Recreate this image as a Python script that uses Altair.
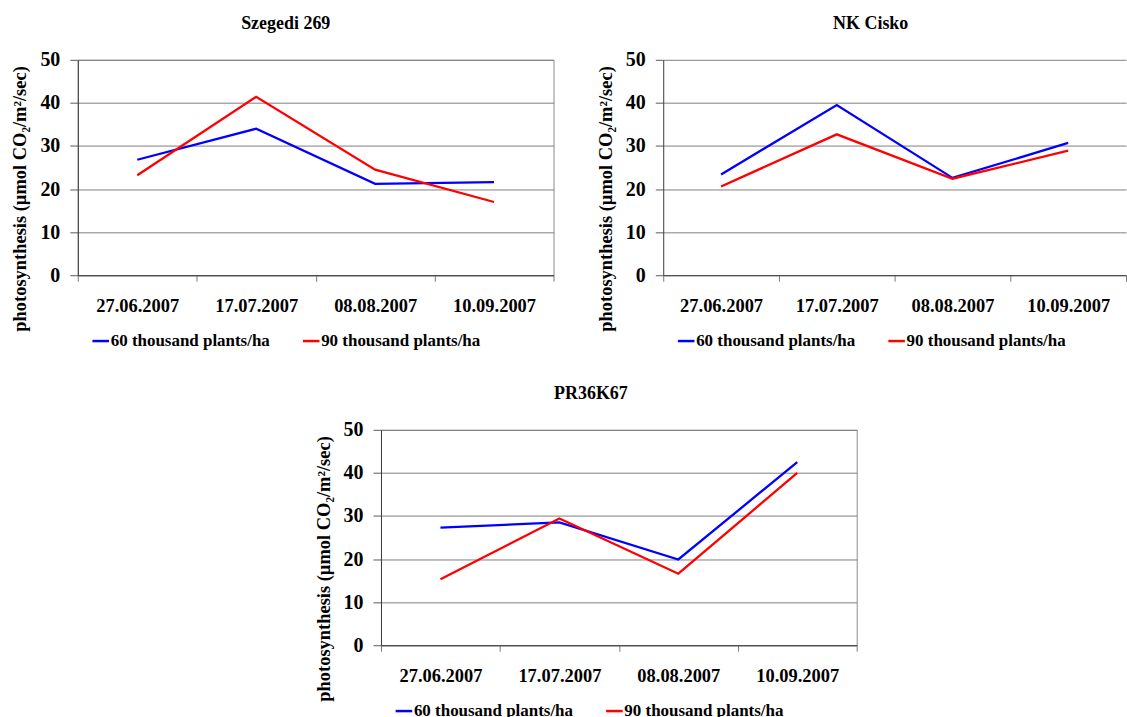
import altair as alt
import pandas as pd

dates = ["27.06.2007", "17.07.2007", "08.08.2007", "10.09.2007"]
series_names = ["60 thousand plants/ha", "90 thousand plants/ha"]
series_colors = ["#0000ff", "#ff0000"]

szegedi_60 = [26.8, 34.0, 21.2, 21.6]
szegedi_90 = [23.2, 41.4, 24.5, 17.0]
cisko_60 = [23.4, 39.5, 22.6, 30.7]
cisko_90 = [20.6, 32.7, 22.4, 28.9]
pr_60 = [27.3, 28.5, 19.9, 42.5]
pr_90 = [15.3, 29.4, 16.6, 40.0]

y_ticks = [0, 10, 20, 30, 40, 50]
y_title = "photosynthesis (µmol CO₂/m²/sec)"

FONT = "Liberation Serif"


def make_df(v60, v90):
    rows = []
    for d, a in zip(dates, v60):
        rows.append({"date": d, "series": series_names[0], "value": a})
    for d, b in zip(dates, v90):
        rows.append({"date": d, "series": series_names[1], "value": b})
    return pd.DataFrame(rows)


def panel(title, v60, v90, width, dx, stroke="#8c8c8c"):
    df = make_df(v60, v90)
    return (
        alt.Chart(df)
        .mark_line(strokeWidth=2.3)
        .encode(
            x=alt.X(
                "date:N",
                sort=dates,
                scale=alt.Scale(type="band", paddingInner=0, paddingOuter=0),
                axis=alt.Axis(
                    title=None,
                    labelAngle=0,
                    tickBand="extent",
                    tickSize=6,
                    tickColor="#7a7a7a",
                    domainColor="#3c3c3c",
                    labelPadding=15,
                    labelFont=FONT,
                    labelFontSize=18.5,
                    labelFontWeight="bold",
                    labelColor="black",
                    grid=False,
                ),
            ),
            y=alt.Y(
                "value:Q",
                scale=alt.Scale(domain=[0, 50], nice=False),
                axis=alt.Axis(
                    values=y_ticks,
                    title=y_title,
                    titleFont=FONT,
                    titleFontSize=18.5,
                    titleFontWeight="bold",
                    titleColor="black",
                    titleX=-48,
                    titleY=139,
                    labelFont=FONT,
                    labelFontSize=20,
                    labelFontWeight="bold",
                    labelColor="black",
                    labelPadding=10,
                    tickSize=8,
                    tickColor="#5a5a5a",
                    domainColor="#3c3c3c",
                    gridColor="#7f7f7f",
                    gridWidth=1,
                ),
            ),
            color=alt.Color(
                "series:N",
                scale=alt.Scale(domain=series_names, range=series_colors),
                legend=alt.Legend(
                    orient="none",
                    legendX=13,
                    legendY=272,
                    direction="horizontal",
                    title=None,
                    symbolType="stroke",
                    symbolSize=276,
                    symbolStrokeWidth=2.5,
                    labelFont=FONT,
                    labelFontSize=17,
                    labelFontWeight="bold",
                    labelColor="black",
                    labelOffset=0,
                    labelLimit=400,
                    columnPadding=27,
                    padding=0,
                ),
            ),
        )
        .properties(
            width=width,
            height=216,
            title=alt.TitleParams(
                text=title,
                font=FONT,
                fontSize=18,
                fontWeight="bold",
                color="black",
                anchor="middle",
                frame="group",
                dx=dx,
                offset=17,
            ),
            view=alt.ViewBackground(stroke=stroke),
        )
    )


p1 = panel("Szegedi 269", szegedi_60, szegedi_90, 477, -30)
p2 = panel("NK Cisko", cisko_60, cisko_90, 464, -24, stroke="transparent")
p3 = panel("PR36K67", pr_60, pr_90, 477, -28)

spacer = (
    alt.Chart(pd.DataFrame({"v": [0]}))
    .mark_point(opacity=0)
    .encode(x=alt.value(0), y=alt.value(0))
    .properties(width=235, height=10, view=alt.ViewBackground(stroke="transparent"))
)

top = alt.hconcat(p1, p2, spacing=41).resolve_legend(color="independent")
bottom = alt.hconcat(spacer, p3, spacing=0).resolve_legend(color="independent")

chart = (
    alt.vconcat(top, bottom, spacing=34)
    .resolve_legend(color="independent")
    .properties(padding={"left": 10, "top": 13, "right": 0, "bottom": 0})
    .configure(background="white")
)

chart.save("out.html", embed_options={"renderer": "svg", "actions": False})
